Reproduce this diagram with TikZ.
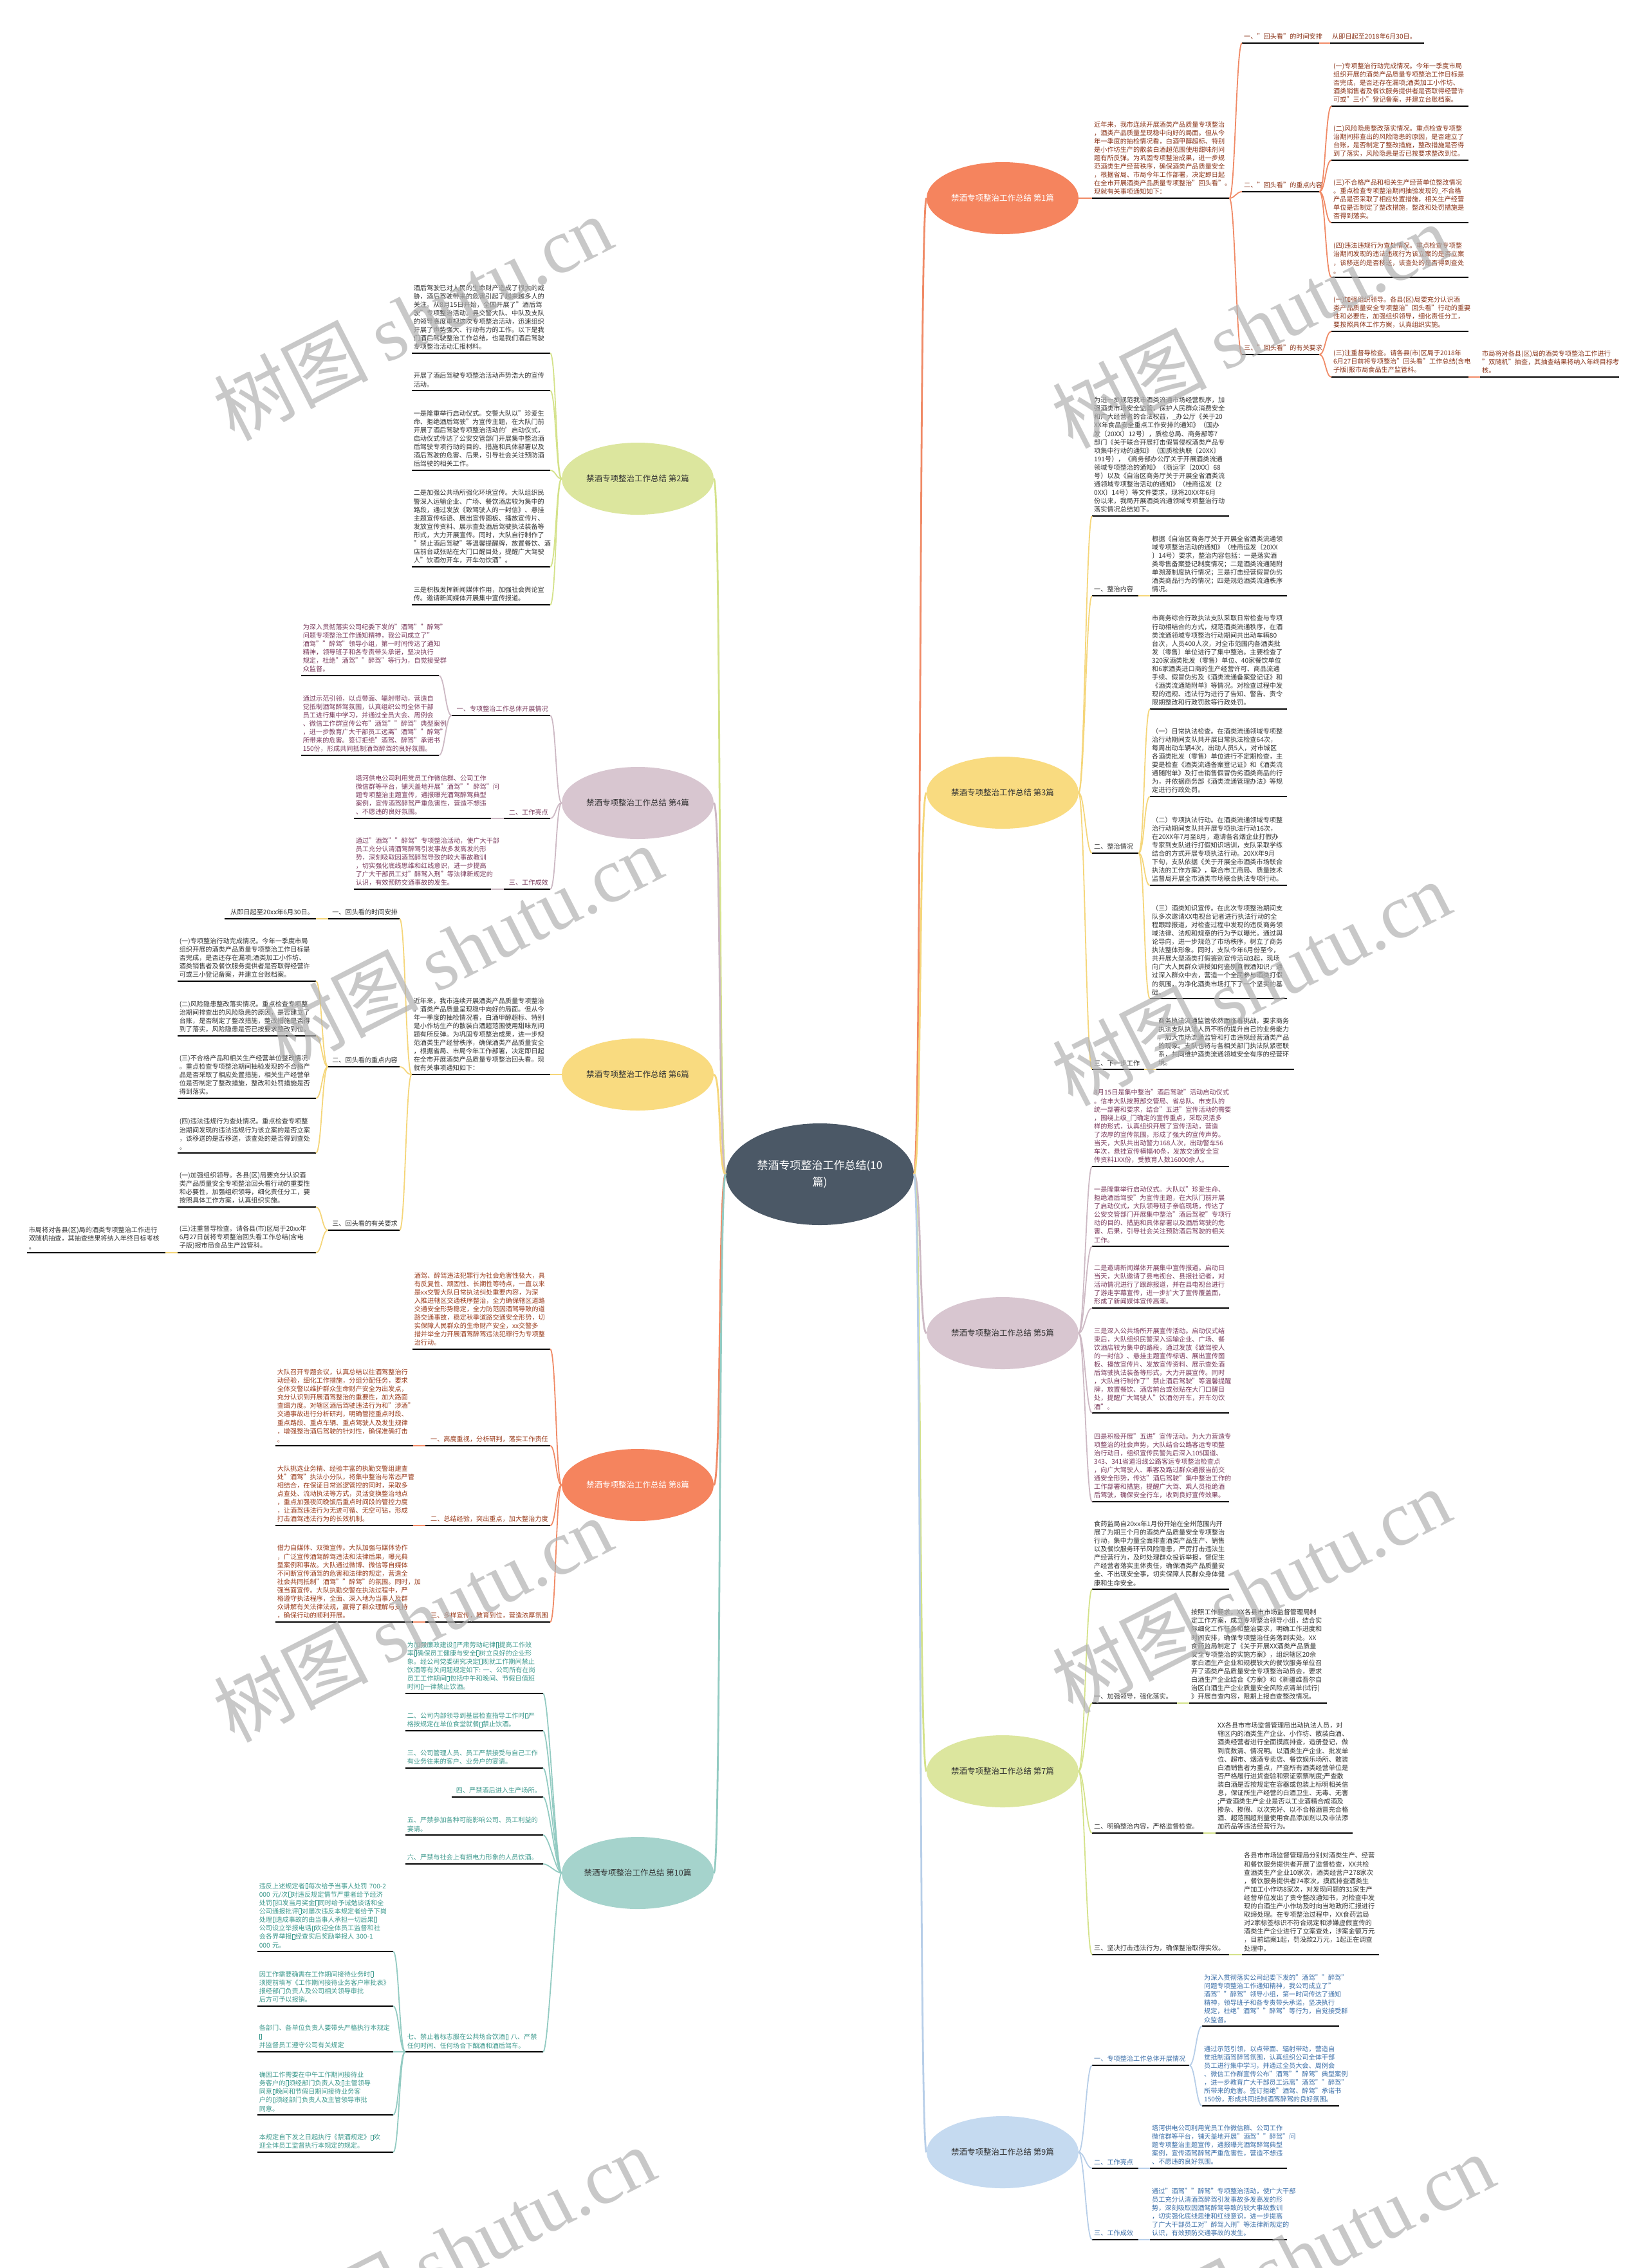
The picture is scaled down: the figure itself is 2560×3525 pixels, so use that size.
\documentclass[tikz,border=0pt]{standalone}
\usepackage{fontspec}
\setmainfont{Noto Sans CJK SC}
\newfontfamily\wmserif{Liberation Serif}
\usetikzlibrary{shapes.geometric}
\definecolor{cCenter}{HTML}{4B5866}
\definecolor{fOr}{HTML}{F5845E}
\definecolor{fYe}{HTML}{F9DB80}
\definecolor{fMa}{HTML}{D8C6D0}
\definecolor{fGr}{HTML}{DCE69E}
\definecolor{fBl}{HTML}{C5DAF0}
\definecolor{fTe}{HTML}{A5D3CC}
\definecolor{lOr}{HTML}{F08A66}
\definecolor{lYe}{HTML}{F5D67A}
\definecolor{lMa}{HTML}{CDB9C4}
\definecolor{lGr}{HTML}{D4E28A}
\definecolor{lBl}{HTML}{B7CEE8}
\definecolor{lTe}{HTML}{93CBC2}
\definecolor{tOr}{HTML}{8A3318}
\definecolor{tDk}{HTML}{333333}
\definecolor{tMa}{HTML}{7A3A5C}
\definecolor{tBl}{HTML}{3A6EA8}
\definecolor{tRd}{HTML}{9A3B1B}
\definecolor{tTe}{HTML}{3E9A8E}
\newcommand\tofu{\kern0.7pt\hbox{\vrule width0.5pt height8.3pt depth0.6pt\lower0.6pt\vbox to8.9pt{\hrule width3pt height0.5pt\vfil\hrule width3pt height0.5pt}\vrule width0.5pt height8.3pt depth0.6pt}\kern0.7pt}
\newcommand\conR[3]{\draw[conn,draw=#1] (#2.south east) .. controls +(9,0) and +(-9,0) .. (#3.south west);}
\newcommand\conL[3]{\draw[conn,draw=#1] (#2.south west) .. controls +(-9,0) and +(9,0) .. (#3.south east);}
\newcommand\brR[3]{\draw[conn,draw=#1] (#2.east) .. controls +(9,0) and +(-9,0) .. (#3.south west);}
\newcommand\brL[3]{\draw[conn,draw=#1] (#2.west) .. controls +(-9,0) and +(9,0) .. (#3.south east);}
\newcommand\tzA{为深入贯彻落实公司纪委下发的"酒驾""醉驾"\\问题专项整治工作通知精神，我公司成立了"\\酒驾""醉驾"领导小组，第一时间传达了通知\\精神，领导班子和各专责带头承诺，坚决执行\\规定，杜绝"酒驾""醉驾"等行为，自觉接受群\\众监督。}
\newcommand\tzB{通过示范引领，以点带面、辐射带动，营造自\\觉抵制酒驾醉驾氛围，认真组织公司全体干部\\员工进行集中学习，并通过全员大会、周例会\\、微信工作群宣传公布"酒驾""醉驾"典型案例\\，进一步教育广大干部员工远离"酒驾""醉驾"\\所带来的危害。签订拒绝"酒驾、醉驾"承诺书\\150份，形成共同抵制酒驾醉驾的良好氛围。}
\newcommand\tzC{塔河供电公司利用党员工作微信群、公司工作\\微信群等平台，铺天盖地开展"酒驾""醉驾"问\\题专项整治主题宣传，通报曝光酒驾醉驾典型\\案例，宣传酒驾醉驾严重危害性，营造不想违\\、不愿违的良好氛围。}
\newcommand\tzD{通过"酒驾""醉驾"专项整治活动，使广大干部\\员工充分认清酒驾醉驾引发事故多发高发的形\\势，深刻吸取因酒驾醉驾导致的较大事故教训\\，切实强化底线思维和红线意识，进一步提高\\了广大干部员工对"醉驾入刑"等法律新规定的\\认识，有效预防交通事故的发生。}
\begin{document}
\begin{tikzpicture}[x=1pt,y=-1pt,
  ul/.style={append after command={(\tikzlastnode.south west) edge[draw=black,line width=2.3pt] (\tikzlastnode.south east)}},
  txt/.style={font=\fontsize{10.15}{13.1}\selectfont, inner xsep=3pt, inner ysep=5pt, align=left, ul},
  rbox/.style={txt, anchor=south west},
  lbox/.style={txt, anchor=south east},
  branch/.style={ellipse, minimum width=236pt, minimum height=112pt, inner xsep=-15pt, inner ysep=0pt, font=\fontsize{12.5}{15}\selectfont},
  conn/.style={line width=1.8pt},
  main/.style={line width=2.8pt},
  wm/.style={rotate=27, text=black!30, opacity=0.7, font=\fontsize{120}{120}\selectfont}]
\useasboundingbox (0,0) rectangle (2560,3525);
\fill[white] (0,0) rectangle (2560,3525);

% ---------- center and branches ----------
\node[ellipse, fill=cCenter, minimum width=292pt, minimum height=158pt, inner sep=0pt, text=white, align=center, font=\fontsize{17}{26}\selectfont] (c) at (1274,1825) {禁酒专项整治工作总结(10\\篇)};
\node[branch, fill=fOr, text=white] (b1) at (1558,308) {禁酒专项整治工作总结 第1篇};
\node[branch, fill=fYe, text=tDk] (b3) at (1558,1232) {禁酒专项整治工作总结 第3篇};
\node[branch, fill=fMa, text=tDk] (b5) at (1558,2072) {禁酒专项整治工作总结 第5篇};
\node[branch, fill=fGr, text=tDk] (b7) at (1558,2753) {禁酒专项整治工作总结 第7篇};
\node[branch, fill=fBl, text=tDk] (b9) at (1558,3345) {禁酒专项整治工作总结 第9篇};
\node[branch, fill=fGr, text=tDk] (b2) at (991,744) {禁酒专项整治工作总结 第2篇};
\node[branch, fill=fMa, text=tDk] (b4) at (991,1248) {禁酒专项整治工作总结 第4篇};
\node[branch, fill=fYe, text=tDk] (b6) at (991,1670) {禁酒专项整治工作总结 第6篇};
\node[branch, fill=fOr, text=white] (b8) at (991,2308) {禁酒专项整治工作总结 第8篇};
\node[branch, fill=fTe, text=tDk] (b10) at (991,2911) {禁酒专项整治工作总结 第10篇};
\foreach \b/\col in {b1/lOr,b3/lYe,b5/lMa,b7/lGr,b9/lBl} {\draw[main,draw=\col] (c.east) .. controls +(12,0) and +(-12,0) .. (\b.west);}
\foreach \b/\col in {b2/lGr,b4/lMa,b6/lYe,b8/lOr,b10/lTe} {\draw[main,draw=\col] (c.west) .. controls +(-12,0) and +(12,0) .. (\b.east);}

% ---------- 第1篇 ----------
\node[rbox,text width=207pt,text=tOr] (n1) at (1697,308) {近年来，我市连续开展酒类产品质量专项整治\\，酒类产品质量呈现稳中向好的局面。但从今\\年一季度的抽检情况看，白酒甲醇超标、特别\\是小作坊生产的散装白酒超范围使用甜味剂问\\题有所反弹。为巩固专项整治成果，进一步规\\范酒类生产经营秩序，确保酒类产品质量安全\\，根据省局、市局今年工作部署，决定即日起\\在全市开展酒类产品质量专项整治"回头看"。\\现就有关事项通知如下：};
\node[rbox,text width=114pt,text=tOr] (n1a) at (1930,67) {一、"回头看"的时间安排};
\node[rbox,text width=140pt,text=tOr] (n1a1) at (2067,67) {从即日起至2018年6月30日。};
\node[rbox,text width=114pt,text=tOr] (n1b) at (1930,298) {二、"回头看"的重点内容};
\node[rbox,text width=207pt,text=tOr] (n1b1) at (2069,165) {(一)专项整治行动完成情况。今年一季度市局\\组织开展的酒类产品质量专项整治工作目标是\\否完成，是否还存在漏项;酒类加工小作坊、\\酒类销售者及餐饮服务提供者是否取得经营许\\可或"三小"登记备案，并建立台账档案。};
\node[rbox,text width=207pt,text=tOr] (n1b2) at (2069,249) {(二)风险隐患整改落实情况。重点检查专项整\\治期间排查出的风险隐患的原因，是否建立了\\台账，是否制定了整改措施，整改措施是否得\\到了落实，风险隐患是否已按要求整改到位。};
\node[rbox,text width=207pt,text=tOr] (n1b3) at (2069,346) {(三)不合格产品和相关生产经营单位整改情况\\。重点检查专项整治期间抽验发现的\_不合格\\产品是否采取了相应处置措施，相关生产经营\\单位是否制定了整改措施，整改和处罚措施是\\否得到落实。};
\node[rbox,text width=207pt,text=tOr] (n1b4) at (2069,431) {(四)违法违规行为查处情况。重点检查专项整\\治期间发现的违法违规行为该立案的是否立案\\，该移送的是否移送，该查处的是否得到查处\\。};
\node[rbox,text width=114pt,text=tOr] (n1c) at (1930,551) {三、"回头看"的有关要求};
\node[rbox,text width=207pt,text=tOr] (n1c1) at (2069,515) {(一)加强组织领导。各县(区)局要充分认识酒\\类产品质量安全专项整治"回头看"行动的重要\\性和必要性，加强组织领导，细化责任分工，\\要按照具体工作方案，认真组织实施。};
\node[rbox,text width=207pt,text=tOr] (n1c2) at (2069,586) {(三)注重督导检查。请各县(市)区局于2018年\\6月27日前将专项整治"回头看"工作总结(含电\\子版)报市局食品生产监管科。};
\node[rbox,text width=210pt,text=tOr] (n1c2a) at (2300,586) {市局将对各县(区)局的酒类专项整治工作进行\\"双随机"抽查，其抽查结果将纳入年终目标考\\核。};
\brR{lOr}{b1}{n1}
\foreach \k in {n1a,n1b,n1c} {\conR{lOr}{n1}{\k}}
\conR{lOr}{n1a}{n1a1}
\foreach \k in {n1b1,n1b2,n1b3,n1b4} {\conR{lOr}{n1b}{\k}}
\foreach \k in {n1c1,n1c2} {\conR{lOr}{n1c}{\k}}
\conR{lOr}{n1c2}{n1c2a}

% ---------- 第3篇 ----------
\node[rbox,text width=207pt,text=tDk] (n3) at (1697,802) {为进一步规范我市酒类流通市场经营秩序，加\\强酒类市场安全监管，保护人民群众消费安全\\和广大经营者的合法权益，\_办公厅《关于20\\XX年食品安全重点工作安排的通知》（国办\\发〔20XX〕12号），质检总局、商务部等7\\部门《关于联合开展打击假冒侵权酒类产品专\\项集中行动的通知》（国质检执联〔20XX〕\\191号），《商务部办公厅关于开展酒类流通\\领域专项整治的通知》（商运字〔20XX〕68\\号）以及《自治区商务厅关于开展全省酒类流\\通领域专项整治活动的通知》（桂商运发〔2\\0XX〕14号）等文件要求，现将20XX年6月\\份以来，我局开展酒类流通领域专项整治行动\\落实情况总结如下。};
\node[rbox,text width=66pt,text=tDk] (n3a) at (1697,926) {一、整治内容};
\node[rbox,text width=207pt,text=tDk] (n3a1) at (1787,926) {根据《自治区商务厅关于开展全省酒类流通领\\域专项整治活动的通知》（桂商运发〔20XX\\〕14号）要求，整治内容包括：一是落实酒\\类零售备案登记制度情况；二是酒类流通随附\\单溯源制度执行情况；三是打击经营假冒伪劣\\酒类商品行为的情况；四是规范酒类流通秩序\\情况。};
\node[rbox,text width=66pt,text=tDk] (n3b) at (1697,1326) {二、整治情况};
\node[rbox,text width=207pt,text=tDk] (n3b1) at (1787,1102) {市商务综合行政执法支队采取日常检查与专项\\行动相结合的方式，规范酒类流通秩序，在酒\\类流通领域专项整治行动期间共出动车辆80\\台次，人员400人次，对全市范围内各酒类批\\发（零售）单位进行了集中整治。主要检查了\\320家酒类批发（零售）单位、40家餐饮单位\\和6家酒类进口商的生产经营许可、商品流通\\手续、假冒伪劣及《酒类流通备案登记证》和\\《酒类流通随附单》等情况。对检查过程中发\\现的违规、违法行为进行了告知、警告、责令\\限期整改和行政罚款等行政处罚。};
\node[rbox,text width=207pt,text=tDk] (n3b2) at (1787,1238) {（一）日常执法检查。在酒类流通领域专项整\\治行动期间支队共开展日常执法检查64次，\\每周出动车辆4次，出动人员5人，对市城区\\各酒类批发（零售）单位进行不定期检查，主\\要是检查《酒类流通备案登记证》和《酒类流\\通随附单》及打击销售假冒伪劣酒类商品的行\\为，并依据商务部《酒类流通管理办法》等规\\定进行行政处罚。};
\node[rbox,text width=207pt,text=tDk] (n3b3) at (1787,1376) {（二）专项执法行动。在酒类流通领域专项整\\治行动期间支队共开展专项执法行动16次，\\在20XX年7月至8月，邀请各名烟企业打假办\\专家到支队进行打假知识培训，支队采取学练\\结合的方式开展专项执法行动。20XX年9月\\下旬，支队依据《关于开展全市酒类市场联合\\执法的工作方案》，联合市工商局、质量技术\\监督局开展全市酒类市场联合执法专项行动。};
\node[rbox,text width=207pt,text=tDk] (n3b4) at (1787,1552) {（三）酒类知识宣传。在此次专项整治期间支\\队多次邀请XX电视台记者进行执法行动的全\\程跟踪报道，对检查过程中发现的违反商务领\\域法律、法规和规章的行为予以曝光。通过舆\\论导向，进一步规范了市场秩序，树立了商务\\执法整体形象。同时，支队今年6月份至今，\\共开展大型酒类打假鉴别宣传活动3起，现场\\向广大人民群众讲授如何鉴别真假酒知识，通\\过深入群众中去，营造一个全民参与酒类打假\\的氛围，为净化酒类市场打下了一个坚实的基\\础。};
\node[rbox,text width=75pt,text=tDk] (n3c) at (1697,1662) {三、下一步工作};
\node[rbox,text width=208pt,text=tDk] (n3c1) at (1797,1662) {商务执法流通监管依然面临着挑战，要求商务\\执法支队执法人员不断的提升自己的业务能力\\，加大市场流通监管和打击违规经营酒类产品\\的现象。支队也将与各相关部门执法队紧密联\\系，共同维护酒类流通领域安全有序的经营环\\境。};
\foreach \k in {n3,n3a,n3b,n3c} {\brR{lYe}{b3}{\k}}
\conR{lYe}{n3a}{n3a1}
\foreach \k in {n3b1,n3b2,n3b3,n3b4} {\conR{lYe}{n3b}{\k}}
\conR{lYe}{n3c}{n3c1}

% ---------- 第5篇 ----------
\node[rbox,text width=207pt,text=tMa] (n5a) at (1697,1813) {8月15日是集中整治"酒后驾驶"活动启动仪式\\。信丰大队按照部交管局、省总队、市支队的\\统一部署和要求，结合"五进"宣传活动的需要\\，围绕上级\_门确定的宣传重点，采取灵活多\\样的形式，认真组织开展了宣传活动，营造\\了浓厚的宣传氛围，形成了强大的宣传声势。\\当天，大队共出动警力168人次，出动警车56\\车次，悬挂宣传横幅40条，发放交通安全宣\\传资料1XX份，受教育人数16000余人。};
\node[rbox,text width=207pt,text=tMa] (n5b) at (1697,1937) {一是隆重举行启动仪式。大队以"珍爱生命、\\拒绝酒后驾驶"为宣传主题，在大队门前开展\\了启动仪式，大队领导班子亲临现场，传达了\\公安交管部门开展集中整治"酒后驾驶"专项行\\动的目的、措施和具体部署以及酒后驾驶的危\\害、后果，引导社会关注预防酒后驾驶的相关\\工作。};
\node[rbox,text width=207pt,text=tMa] (n5c) at (1697,2033) {二是邀请新闻媒体开展集中宣传报道。启动日\\当天，大队邀请了县电视台、县报社记者，对\\活动情况进行了跟踪报道，并在县电视台进行\\了游走字幕宣传，进一步扩大了宣传覆盖面，\\形成了新闻媒体宣传高潮。};
\node[rbox,text width=207pt,text=tMa] (n5d) at (1697,2196) {三是深入公共场所开展宣传活动。启动仪式结\\束后，大队组织民警深入运输企业、广场、餐\\饮酒店较为集中的路段，通过发放《致驾驶人\\的一封信》、悬挂主题宣传标语、展出宣传图\\板、播放宣传片、发放宣传资料、展示查处酒\\后驾驶执法装备等形式，大力开展宣传。同时\\，大队自行制作了"禁止酒后驾驶"等温馨提醒\\牌，放置餐饮、酒店前台或张贴在大门口醒目\\处，提醒广大驾驶人"饮酒勿开车，开车勿饮\\酒"。};
\node[rbox,text width=207pt,text=tMa] (n5e) at (1697,2334) {四是积极开展"五进"宣传活动。为大力营造专\\项整治的社会声势，大队结合公路客运专项整\\治行动日，组织宣传民警先后深入105国道、\\343、341省道沿线公路客运专项整治检查点\\，向广大驾驶人、乘客及路过群众通报当前交\\通安全形势，传达"酒后驾驶"集中整治工作的\\工作部署和措施，提醒广大驾、乘人员拒绝酒\\后驾驶，确保安全行车，收到良好宣传效果。};
\foreach \k in {n5a,n5b,n5c,n5d,n5e} {\brR{lMa}{b5}{\k}}

% ---------- 第7篇 ----------
\node[rbox,text width=207pt,text=tDk] (n7) at (1697,2470) {食药监局自20xx年1月份开始在全州范围内开\\展了为期三个月的酒类产品质量安全专项整治\\行动，集中力量全面排查酒类产品生产、销售\\以及餐饮服务环节风险隐患，严厉打击违法生\\产经营行为，及时处理群众投诉举报，督促生\\产经营者落实主体责任，确保酒类产品质量安\\全、不出现安全事，切实保障人民群众身体健\\康和生命安全。};
\node[rbox,text width=126pt,text=tDk] (n7a) at (1697,2647) {一、加强领导，强化落实。};
\node[rbox,text width=208pt,text=tDk] (n7a1) at (1848,2647) {按照工作要求，XX各县市市场监督管理局制\\定工作方案，成立专项整治领导小组，结合实\\际细化工作任务和整治要求，明确工作进度和\\时间安排，确保专项整治任务落到实处。XX\\食药监局制定了《关于开展XX酒类产品质量\\安全专项整治的实施方案》，组织辖区20余\\家白酒生产企业和规模较大的餐饮服务单位召\\开了酒类产品质量安全专项整治动员会，要求\\白酒生产企业结合《方案》和《新疆维吾尔自\\治区白酒生产企业质量安全风险点清单(试行)\\》开展自查内容，限期上报自查整改情况。};
\node[rbox,text width=167pt,text=tDk] (n7b) at (1697,2849) {二、明确整治内容，严格监督检查。};
\node[rbox,text width=207pt,text=tDk] (n7b1) at (1889,2849) {XX各县市市场监督管理局出动执法人员，对\\辖区内的酒类生产企业、小作坊、散装白酒、\\酒类经营者进行全面摸底排查，造册登记，做\\到底数清、情况明。以酒类生产企业、批发单\\位、超市、烟酒专卖店、餐饮娱乐场所、散装\\白酒销售者为重点，严查所有酒类经营单位是\\否严格履行进货查验和索证索票制度;严查散\\装白酒是否按规定在容器或包装上标明相关信\\息，保证所生产经营的白酒卫生、无毒、无害\\;严查酒类生产企业是否以工业酒精合成酒及\\掺杂、掺假、以次充好、以不合格酒冒充合格\\酒、超范围超剂量使用食品添加剂以及非法添\\加药品等违法经营行为。};
\node[rbox,text width=207pt,text=tDk] (n7c) at (1697,3038) {三、坚决打击违法行为，确保整治取得实效。};
\node[rbox,text width=207pt,text=tDk] (n7c1) at (1930,3038) {各县市市场监督管理局分别对酒类生产、经营\\和餐饮服务提供者开展了监督检查，XX共检\\查酒类生产企业10家次，酒类经营户278家次\\，餐饮服务提供者74家次，摸底排查酒类生\\产加工小作坊8家次，对发现问题的31家生产\\经营单位发出了责令整改通知书，对检查中发\\现的白酒生产小作坊及时向当地政府汇报进行\\取缔处理。在专项整治过程中，XX食药监局\\对2家标签标识不符合规定和涉嫌虚假宣传的\\酒类生产企业进行了立案查处，涉案金额万元\\，目前结案1起，罚没款2万元，1起正在调查\\处理中。};
\foreach \k in {n7,n7a,n7b,n7c} {\brR{lGr}{b7}{\k}}
\conR{lGr}{n7a}{n7a1}
\conR{lGr}{n7b}{n7b1}
\conR{lGr}{n7c}{n7c1}

% ---------- 第9篇 ----------
\node[rbox,text width=145pt,text=tBl] (n9a) at (1697,3210) {一、专项整治工作总体开展情况};
\node[rbox,text width=207pt,text=tBl] (n9a1) at (1868,3149) {\tzA};
\node[rbox,text width=207pt,text=tBl] (n9a2) at (1868,3273) {\tzB};
\node[rbox,text width=66pt,text=tBl] (n9b) at (1697,3370) {二、工作亮点};
\node[rbox,text width=207pt,text=tBl] (n9b1) at (1787,3370) {\tzC};
\node[rbox,text width=66pt,text=tBl] (n9c) at (1697,3481) {三、工作成效};
\node[rbox,text width=207pt,text=tBl] (n9c1) at (1787,3481) {\tzD};
\foreach \k in {n9a,n9b,n9c} {\brR{lBl}{b9}{\k}}
\conR{lBl}{n9a}{n9a1}
\conR{lBl}{n9a}{n9a2}
\conR{lBl}{n9b}{n9b1}
\conR{lBl}{n9c}{n9c1}

% ---------- 第2篇 ----------
\node[lbox,text width=209pt,text=tDk] (n2a) at (855,549) {酒后驾驶已对人民的生命财产造成了很大的威\\胁，酒后驾驶带来的危害引起了越来越多人的\\关注。从8月15日开始，全国开展了"酒后驾\\驶"专项整治活动。县交警大队、中队及支队\\的领导高度重视这次专项整治活动，迅速组织\\开展了声势强大、行动有力的工作。以下是我\\们酒后驾驶整治工作总结，也是我们酒后驾驶\\专项整治活动汇报材料。};
\node[lbox,text width=209pt,text=tDk] (n2b) at (855,607) {开展了酒后驾驶专项整治活动声势浩大的宣传\\活动。};
\node[lbox,text width=209pt,text=tDk] (n2c) at (855,731) {一是隆重举行启动仪式。交警大队以"珍爱生\\命、拒绝酒后驾驶"为宣传主题，在大队门前\\开展了酒后驾驶专项整治活动的'启动仪式，\\启动仪式传达了公安交管部门开展集中整治酒\\后驾驶专项行动的目的、措施和具体部署以及\\酒后驾驶的危害、后果，引导社会关注预防酒\\后驾驶的相关工作。};
\node[lbox,text width=209pt,text=tDk] (n2d) at (855,881) {二是加强公共场所强化环境宣传。大队组织民\\警深入运输企业、广场、餐饮酒店较为集中的\\路段，通过发放《致驾驶人的一封信》、悬挂\\主题宣传标语、展出宣传图板、播放宣传片、\\发放宣传资料、展示查处酒后驾驶执法装备等\\形式，大力开展宣传。同时，大队自行制作了\\"禁止酒后驾驶"等温馨提醒牌，放置餐饮、酒\\店前台或张贴在大门口醒目处，提醒广大驾驶\\人"饮酒勿开车，开车勿饮酒"。};
\node[lbox,text width=209pt,text=tDk] (n2e) at (855,940) {三是积极发挥新闻媒体作用，加强社会舆论宣\\传。邀请新闻媒体开展集中宣传报道。};
\foreach \k in {n2a,n2b,n2c,n2d,n2e} {\brL{lGr}{b2}{\k}}

% ---------- 第4篇 ----------
\node[lbox,text width=147pt,text=tMa,align=right] (n4a) at (855,1112) {一、专项整治工作总体开展情况};
\node[lbox,text width=208pt,text=tMa] (n4a1) at (682,1050) {\tzA};
\node[lbox,text width=208pt,text=tMa] (n4a2) at (682,1174) {\tzB};
\node[lbox,text width=66pt,text=tMa,align=right] (n4b) at (855,1272) {二、工作亮点};
\node[lbox,text width=207pt,text=tMa] (n4b1) at (763,1272) {\tzC};
\node[lbox,text width=66pt,text=tMa,align=right] (n4c) at (855,1382) {三、工作成效};
\node[lbox,text width=207pt,text=tMa] (n4c1) at (763,1382) {\tzD};
\foreach \k in {n4a,n4b,n4c} {\brL{lMa}{b4}{\k}}
\conL{lMa}{n4a}{n4a1}
\conL{lMa}{n4a}{n4a2}
\conL{lMa}{n4b}{n4b1}
\conL{lMa}{n4c}{n4c1}

% ---------- 第6篇 ----------
\node[lbox,text width=209pt,text=tDk] (n6) at (855,1670) {近年来，我市连续开展酒类产品质量专项整治\\，酒类产品质量呈现稳中向好的局面。但从今\\年一季度的抽检情况看，白酒甲醇超标、特别\\是小作坊生产的散装白酒超范围使用甜味剂问\\题有所反弹。为巩固专项整治成果，进一步规\\范酒类生产经营秩序，确保酒类产品质量安全\\，根据省局、市局今年工作部署，决定即日起\\在全市开展酒类产品质量专项整治回头看。现\\就有关事项通知如下：};
\node[lbox,text width=105pt,text=tDk,align=right] (n6a) at (621,1428) {一、回头看的时间安排};
\node[lbox,text width=136pt,text=tDk,align=right] (n6a1) at (491,1428) {从即日起至20xx年6月30日。};
\node[lbox,text width=105pt,text=tDk,align=right] (n6b) at (621,1658) {二、回头看的重点内容};
\node[lbox,text width=209pt,text=tDk] (n6b1) at (491,1525) {(一)专项整治行动完成情况。今年一季度市局\\组织开展的酒类产品质量专项整治工作目标是\\否完成，是否还存在漏项;酒类加工小作坊、\\酒类销售者及餐饮服务提供者是否取得经营许\\可或三小登记备案，并建立台账档案。};
\node[lbox,text width=209pt,text=tDk] (n6b2) at (491,1610) {(二)风险隐患整改落实情况。重点检查专项整\\治期间排查出的风险隐患的原因，是否建立了\\台账，是否制定了整改措施，整改措施是否得\\到了落实，风险隐患是否已按要求整改到位。};
\node[lbox,text width=209pt,text=tDk] (n6b3) at (491,1707) {(三)不合格产品和相关生产经营单位整改情况\\。重点检查专项整治期间抽验发现的不合格产\\品是否采取了相应处置措施，相关生产经营单\\位是否制定了整改措施，整改和处罚措施是否\\得到落实。};
\node[lbox,text width=209pt,text=tDk] (n6b4) at (491,1792) {(四)违法违规行为查处情况。重点检查专项整\\治期间发现的违法违规行为该立案的是否立案\\，该移送的是否移送，该查处的是否得到查处\\。};
\node[lbox,text width=105pt,text=tDk,align=right] (n6c) at (621,1912) {三、回头看的有关要求};
\node[lbox,text width=209pt,text=tDk] (n6c1) at (491,1876) {(一)加强组织领导。各县(区)局要充分认识酒\\类产品质量安全专项整治回头看行动的重要性\\和必要性，加强组织领导，细化责任分工，要\\按照具体工作方案，认真组织实施。};
\node[lbox,text width=209pt,text=tDk] (n6c2) at (491,1947) {(三)注重督导检查。请各县(市)区局于20xx年\\6月27日前将专项整治回头看工作总结(含电\\子版)报市局食品生产监管科。};
\node[lbox,text width=209pt,text=tDk] (n6c2a) at (257,1947) {市局将对各县(区)局的酒类专项整治工作进行\\双随机抽查，其抽查结果将纳入年终目标考核\\。};
\brL{lYe}{b6}{n6}
\foreach \k in {n6a,n6b,n6c} {\conL{lYe}{n6}{\k}}
\conL{lYe}{n6a}{n6a1}
\foreach \k in {n6b1,n6b2,n6b3,n6b4} {\conL{lYe}{n6b}{\k}}
\foreach \k in {n6c1,n6c2} {\conL{lYe}{n6c}{\k}}
\conL{lYe}{n6c2}{n6c2a}

% ---------- 第8篇 ----------
\node[lbox,text width=208pt,text=tRd] (n8) at (855,2097) {酒驾、醉驾违法犯罪行为社会危害性极大，具\\有反复性、顽固性、长期性等特点，一直以来\\是xx交警大队日常执法纠处重要内容，为深\\入推进辖区交通秩序整治，全力确保辖区道路\\交通安全形势稳定，全力防范因酒驾导致的道\\路交通事故，稳定秋季道路交通安全形势，切\\实保障人民群众的生命财产安全，xx交警多\\措并举全力开展酒驾醉驾违法犯罪行为专项整\\治行动。};
\node[lbox,text width=188pt,text=tRd,align=right] (n8a) at (855,2247) {一、高度重视，分析研判，落实工作责任};
\node[lbox,text width=208pt,text=tRd] (n8a1) at (642,2247) {大队召开专题会议，认真总结以往酒驾整治行\\动经验，细化工作措施，分组分配任务，要求\\全体交警以维护群众生命财产安全为出发点，\\充分认识到开展酒驾整治的重要性，加大路面\\查缉力度。对辖区酒后驾驶违法行为和"涉酒"\\交通事故进行分析研判，明确管控重点时段、\\重点路段、重点车辆、重点驾驶人及发生规律\\，增强整治酒后驾驶的针对性，确保准确打击\\。};
\node[lbox,text width=188pt,text=tRd,align=right] (n8b) at (855,2371) {二、总结经验，突出重点，加大整治力度};
\node[lbox,text width=208pt,text=tRd] (n8b1) at (642,2371) {大队挑选业务精、经验丰富的执勤交警组建查\\处"酒驾"执法小分队，将集中整治与常态严管\\相结合，在保证日常巡逻管控的同时，采取多\\点查处、流动执法等方式，灵活变换整治地点\\，重点加强夜间晚饭后重点时间段的管控力度\\，让酒驾违法行为无迹可循、无空可钻，形成\\打击酒驾违法行为的长效机制。};
\node[lbox,text width=188pt,text=tRd,align=right] (n8c) at (855,2521) {三、多样宣传，教育到位，营造浓厚氛围};
\node[lbox,text width=208pt,text=tRd] (n8c1) at (642,2521) {借力自媒体、双微宣传。大队加强与媒体协作\\，广泛宣传酒驾醉驾违法和法律后果，曝光典\\型案例和事故。大队通过微博、微信等自媒体\\不间断宣传酒驾的危害和法律的规定，营造全\\社会共同抵制"酒驾""醉驾"的氛围。同时，加\\强当面宣传。大队执勤交警在执法过程中，严\\格遵守执法程序，全面、深入地为当事人及群\\众讲解有关法律法规，赢得了群众理解与支持\\，确保行动的顺利开展。};
\foreach \k in {n8,n8a,n8b,n8c} {\brL{lOr}{b8}{\k}}
\conL{lOr}{n8a}{n8a1}
\conL{lOr}{n8b}{n8b1}
\conL{lOr}{n8c}{n8c1}

% ---------- 第10篇 ----------
\node[lbox,text width=208pt,text=tTe] (n10a) at (844,2632) {为加强廉政建设\tofu 严肃劳动纪律\tofu 提高工作效\\率\tofu 确保员工健康与安全\tofu 树立良好的企业形\\象。经公司党委研究决定\tofu 现就工作期间禁止\\饮酒等有关问题规定如下:~一、公司所有在岗\\员工工作期间\tofu 包括中午和晚间、节假日值班\\时间\tofu 一律禁止饮酒。};
\node[lbox,text width=208pt,text=tTe] (n10b) at (844,2690) {二、公司内部领导到基层检查指导工作时\tofu 严\\格按规定在单位食堂就餐\tofu 禁止饮酒。};
\node[lbox,text width=208pt,text=tTe] (n10c) at (844,2748) {三、公司管理人员、员工严禁接受与自己工作\\有业务往来的客户、业务户的宴请。};
\node[lbox,text width=136pt,text=tTe,align=right] (n10d) at (844,2793) {四、严禁酒后进入生产场所。};
\node[lbox,text width=208pt,text=tTe] (n10e) at (844,2852) {五、严禁参加各种可能影响公司、员工利益的\\宴请。};
\node[lbox,text width=208pt,text=tTe] (n10f) at (844,2897) {六、严禁与社会上有损电力形象的人员饮酒。};
\node[lbox,text width=208pt,text=tTe] (n10g) at (844,3189) {七、禁止着标志服在公共场合饮酒\tofu~八、严禁\\任何时间、任何场合下酗酒和酒后驾车。};
\node[lbox,text width=205pt,text=tTe] (n10g1) at (611,3033) {违反上述规定者\tofu 每次给予当事人处罚~700-2\\000~元/次\tofu 对违反规定情节严重者给予经济\\处罚\tofu 扣发当月奖金\tofu 同时给予诫勉谈话和全\\公司通报批评\tofu 对屡次违反本规定者给予下岗\\处理\tofu 造成事故的由当事人承担一切后果\tofu\\公司设立举报电话\tofu 欢迎全体员工监督和社\\会各界举报\tofu 经查实后奖励举报人~300-1\\000~元。};
\node[lbox,text width=205pt,text=tTe] (n10g2) at (611,3118) {因工作需要确需在工作期间接待业务时\tofu\\须提前填写《工作期间接待业务客户审批表》\\报经部门负责人及公司相关领导审批\\后方可予以报销。};
\node[lbox,text width=205pt,text=tTe] (n10g3) at (611,3189) {各部门、各单位负责人要带头严格执行本规定\\\tofu 并监督员工遵守公司有关规定};
\node[lbox,text width=205pt,text=tTe] (n10g4) at (611,3287) {确因工作需要在中午工作期间接待业\\务客户的\tofu 须经部门负责人及\tofu 主管领导\\同意\tofu 晚间和节假日期间接待业务客\\户的\tofu 须经部门负责人及主管领导审批\\同意。};
\node[lbox,text width=205pt,text=tTe] (n10g5) at (611,3345) {本规定自下发之日起执行《禁酒规定》\tofu 欢\\迎全体员工监督执行本规定的规定。};
\foreach \k in {n10a,n10b,n10c,n10d,n10e,n10f,n10g} {\brL{lTe}{b10}{\k}}
\foreach \k in {n10g1,n10g2,n10g3,n10g4,n10g5} {\conL{lTe}{n10g}{\k}}

% ---------- watermarks ----------
\foreach \p in {(641,494),(719,1472),(641,2517),(708,3495),(1944,506),(1944,1528),(1944,2472),(2012,3506)}
  {\node[wm] at \p {树图 {\wmserif shutu.cn}};}
\end{tikzpicture}
\end{document}
